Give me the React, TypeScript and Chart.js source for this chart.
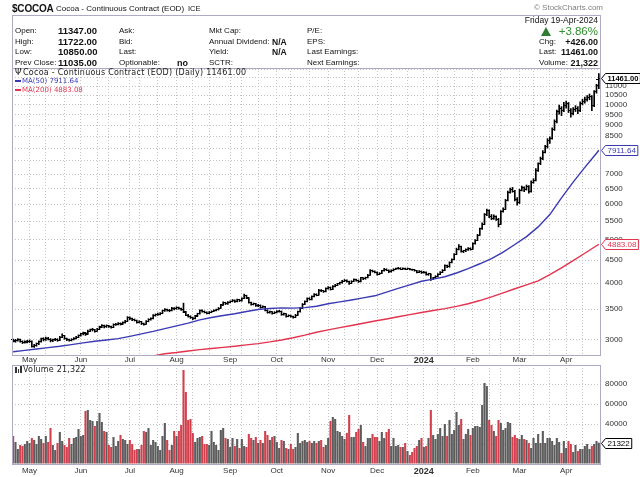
import React, { useEffect, useRef } from "react";
import { Chart, registerables } from "chart.js";

Chart.register(...registerables);

// ---------- calendar (ICE US trading sessions) ----------
const firstSession = "2023-04-20";
const lastSession = "2024-04-19";
const holidays = [
  "2023-05-29", "2023-06-19", "2023-07-04", "2023-09-04", "2023-11-23",
  "2023-12-25", "2024-01-01", "2024-01-15", "2024-02-19", "2024-03-29",
];
const monthNames = ["Jan", "Feb", "Mar", "Apr", "May", "Jun", "Jul", "Aug", "Sep", "Oct", "Nov", "Dec"];

// ---------- daily OHLC ----------
const opens = [
  2990, 2970, 2985, 2995, 2965, 2950, 2960,
  2965, 2970, 2895, 2905, 2930, 2965, 3008, 2990, 3020, 3000, 2980, 2992, 3002, 2985, 3035, 3055, 3010, 2990, 2985, 3000, 3015, 3035,
  3062, 3085, 3100, 3085, 3130, 3150, 3150, 3130, 3162, 3198, 3220, 3198, 3215, 3200, 3192, 3235, 3242, 3258, 3248, 3270, 3295,
  3350, 3335, 3318, 3305, 3270, 3280, 3250, 3242, 3290, 3322, 3340, 3392, 3402, 3415, 3430, 3472, 3495, 3480, 3478, 3522,
  3505, 3530, 3512, 3500, 3450, 3395, 3375, 3350, 3335, 3382, 3420, 3478, 3462, 3448, 3430, 3445, 3462, 3480, 3492, 3522, 3578, 3620, 3598,
  3625, 3642, 3665, 3640, 3672, 3655, 3702, 3752, 3708, 3620, 3585, 3600, 3560, 3575, 3530, 3548, 3480, 3440, 3452, 3430,
  3445, 3460, 3465, 3402, 3420, 3375, 3390, 3372, 3360, 3398, 3455, 3522, 3592, 3640, 3700, 3680, 3735, 3780, 3765, 3860, 3845, 3830,
  3890, 3915, 3880, 3935, 3960, 3985, 4010, 4045, 4060, 4035, 4000, 4040, 4075, 4060, 4030, 4110, 4090, 4115, 4170, 4265, 4250,
  4232, 4185, 4210, 4262, 4300, 4278, 4240, 4268, 4295, 4310, 4325, 4302, 4318, 4300, 4312, 4295, 4282, 4265, 4230, 4255,
  4220, 4235, 4180, 4195, 4085, 4110, 4140, 4190, 4230, 4275, 4380, 4350, 4450, 4520, 4640, 4760, 4830, 4705, 4720, 4745, 4790,
  4765, 4900, 4985, 5120, 5290, 5420, 5680, 5810, 5640, 5570, 5620, 5560, 5420, 5780, 5850, 6120, 6380, 6460, 6420, 6150,
  6040, 6450, 6520, 6480, 6560, 6400, 6720, 6780, 7150, 7380, 7580, 7840, 8050, 8320, 8400, 8800, 9150, 9650, 9820, 9700,
  9950, 10080, 9720, 9560, 9750, 9820, 9690, 10050, 10150, 10260, 10380, 10450, 9940, 10680, 11347,
];
const highs = [
  3005, 3000, 3010, 3002, 2978, 2975, 2985,
  2990, 2975, 2925, 2945, 2975, 3020, 3025, 3035, 3030, 3012, 3005, 3015, 3010, 3045, 3085, 3062, 3020, 3005, 3010, 3025, 3045, 3070,
  3095, 3112, 3110, 3145, 3162, 3175, 3158, 3172, 3210, 3235, 3228, 3230, 3225, 3212, 3248, 3258, 3270, 3265, 3282, 3305, 3370,
  3368, 3345, 3330, 3312, 3298, 3288, 3262, 3302, 3335, 3348, 3405, 3418, 3430, 3440, 3485, 3510, 3505, 3498, 3535, 3530,
  3545, 3538, 3520, 3612, 3462, 3410, 3385, 3362, 3392, 3430, 3490, 3488, 3470, 3455, 3458, 3472, 3492, 3502, 3532, 3590, 3635, 3628, 3640,
  3655, 3680, 3672, 3688, 3680, 3712, 3785, 3762, 3715, 3632, 3615, 3608, 3590, 3580, 3562, 3552, 3490, 3468, 3458, 3458,
  3475, 3482, 3470, 3432, 3425, 3402, 3398, 3380, 3410, 3468, 3532, 3605, 3655, 3712, 3715, 3748, 3795, 3790, 3875, 3872, 3855, 3905,
  3930, 3925, 3950, 3978, 3998, 4025, 4062, 4078, 4068, 4045, 4052, 4090, 4085, 4068, 4125, 4118, 4128, 4185, 4290, 4280, 4262,
  4240, 4225, 4275, 4318, 4308, 4285, 4282, 4310, 4325, 4342, 4332, 4330, 4322, 4325, 4318, 4302, 4290, 4272, 4268, 4262,
  4250, 4242, 4212, 4200, 4125, 4158, 4205, 4245, 4290, 4395, 4392, 4465, 4535, 4660, 4790, 4880, 4842, 4738, 4770, 4805, 4798,
  4920, 5005, 5140, 5310, 5450, 5720, 5850, 5830, 5690, 5680, 5650, 5580, 5810, 5890, 6150, 6420, 6520, 6540, 6440, 6210,
  6480, 6580, 6560, 6620, 6600, 6760, 6840, 7200, 7420, 7640, 7900, 8120, 8400, 8480, 8880, 9250, 9720, 9980, 9900, 10120,
  10180, 10110, 9800, 9850, 9950, 9900, 10150, 10280, 10400, 10480, 10560, 10480, 10750, 11100, 11722,
];
const lows = [
  2960, 2955, 2970, 2955, 2935, 2940, 2945,
  2950, 2880, 2878, 2895, 2920, 2955, 2975, 2982, 2990, 2960, 2965, 2980, 2970, 2980, 3025, 3000, 2980, 2970, 2975, 2990, 3005, 3025,
  3050, 3070, 3060, 3078, 3120, 3130, 3110, 3122, 3155, 3185, 3180, 3188, 3190, 3175, 3185, 3220, 3230, 3228, 3240, 3260, 3288,
  3320, 3300, 3295, 3258, 3262, 3235, 3225, 3238, 3282, 3310, 3332, 3378, 3390, 3400, 3422, 3460, 3468, 3455, 3470, 3490,
  3498, 3500, 3480, 3440, 3385, 3360, 3338, 3318, 3330, 3375, 3412, 3450, 3435, 3418, 3422, 3438, 3455, 3470, 3485, 3515, 3570, 3585, 3590,
  3615, 3635, 3625, 3632, 3640, 3648, 3695, 3700, 3610, 3575, 3578, 3550, 3548, 3520, 3522, 3470, 3430, 3432, 3415, 3422,
  3435, 3448, 3392, 3395, 3362, 3368, 3360, 3345, 3355, 3392, 3448, 3515, 3585, 3632, 3668, 3672, 3728, 3750, 3760, 3830, 3815, 3825,
  3880, 3862, 3872, 3925, 3950, 3975, 4002, 4035, 4020, 3975, 3992, 4032, 4045, 4015, 4025, 4075, 4082, 4110, 4165, 4235, 4215,
  4170, 4178, 4202, 4255, 4265, 4225, 4232, 4260, 4288, 4300, 4290, 4295, 4288, 4292, 4282, 4270, 4255, 4215, 4222, 4205,
  4210, 4168, 4165, 4060, 4072, 4100, 4132, 4182, 4222, 4268, 4330, 4342, 4440, 4512, 4630, 4748, 4690, 4680, 4705, 4735, 4740,
  4755, 4885, 4975, 5110, 5270, 5400, 5660, 5600, 5540, 5550, 5520, 5340, 5410, 5760, 5840, 6100, 6350, 6380, 6100, 5970,
  6020, 6420, 6400, 6450, 6350, 6380, 6680, 6760, 7100, 7350, 7540, 7800, 8000, 8200, 8380, 8760, 9100, 9520, 9450, 9650,
  9820, 9600, 9380, 9480, 9650, 9550, 9650, 9980, 10080, 10180, 10250, 9700, 9900, 10600, 10850,
];
const closes = [
  2975, 2985, 2992, 2968, 2950, 2958, 2965,
  2972, 2895, 2902, 2930, 2962, 3005, 2990, 3018, 3002, 2978, 2992, 3000, 2985, 3030, 3058, 3010, 2992, 2985, 2998, 3012, 3035, 3060,
  3085, 3098, 3082, 3130, 3148, 3152, 3128, 3160, 3195, 3220, 3198, 3215, 3202, 3190, 3235, 3240, 3258, 3245, 3268, 3290, 3350,
  3335, 3318, 3310, 3270, 3282, 3248, 3240, 3290, 3322, 3335, 3390, 3402, 3415, 3428, 3470, 3492, 3480, 3475, 3520, 3505,
  3530, 3512, 3498, 3452, 3395, 3375, 3350, 3335, 3380, 3420, 3478, 3462, 3448, 3430, 3445, 3462, 3480, 3492, 3520, 3575, 3620, 3598, 3625,
  3640, 3665, 3638, 3672, 3655, 3700, 3752, 3710, 3620, 3585, 3602, 3560, 3575, 3530, 3548, 3480, 3440, 3452, 3430, 3445,
  3460, 3468, 3402, 3420, 3375, 3390, 3372, 3360, 3398, 3455, 3520, 3590, 3640, 3700, 3680, 3735, 3780, 3765, 3860, 3845, 3830, 3890,
  3915, 3880, 3935, 3960, 3985, 4010, 4045, 4060, 4035, 4000, 4040, 4075, 4060, 4030, 4110, 4090, 4115, 4170, 4265, 4250, 4232,
  4185, 4210, 4262, 4300, 4278, 4240, 4268, 4295, 4310, 4325, 4302, 4318, 4300, 4312, 4295, 4282, 4265, 4230, 4255, 4220,
  4235, 4180, 4195, 4085, 4110, 4140, 4190, 4230, 4275, 4380, 4350, 4450, 4520, 4640, 4760, 4830, 4705, 4720, 4745, 4790, 4765,
  4900, 4985, 5120, 5290, 5420, 5680, 5810, 5640, 5570, 5620, 5560, 5420, 5780, 5850, 6120, 6380, 6460, 6420, 6150, 6040,
  6450, 6520, 6480, 6560, 6400, 6720, 6780, 7150, 7380, 7580, 7840, 8050, 8320, 8400, 8800, 9150, 9650, 9820, 9700, 9950,
  10080, 9720, 9560, 9750, 9820, 9690, 10050, 10150, 10260, 10380, 10450, 9940, 10680, 11035, 11461,
];
const volumes = [
  28000, 22000, 15000, 19000, 18000, 20000, 23000,
  21000, 26000, 24000, 20000, 28000, 25000, 21000, 28000, 22000, 36000, 19000, 14000, 21000, 32000, 23000, 19000, 17000, 26000, 20000, 26000, 27000, 35000,
  28000, 29000, 53000, 54000, 44000, 43000, 38000, 43000, 51000, 42000, 33000, 32000, 19000, 17000, 27000, 18000, 23000, 29000, 25000, 24000, 20000,
  24000, 20000, 14000, 15000, 15000, 19000, 33000, 32000, 36000, 19000, 24000, 22000, 18000, 14000, 28000, 41000, 24000, 14000, 19000, 33000,
  28000, 33000, 39000, 94000, 72000, 44000, 45000, 31000, 22000, 26000, 27000, 28000, 20000, 20000, 19000, 33000, 22000, 19000, 14000, 34000, 36000, 26000, 25000,
  17000, 26000, 18000, 25000, 16000, 25000, 18000, 17000, 30000, 26000, 24000, 27000, 21000, 24000, 21000, 33000, 29000, 24000, 27000, 28000,
  22000, 16000, 24000, 23000, 16000, 15000, 20000, 15000, 17000, 31000, 21000, 23000, 24000, 22000, 23000, 21000, 23000, 21000, 23000, 24000, 17000, 19000,
  26000, 43000, 47000, 45000, 33000, 32000, 28000, 25000, 31000, 49000, 27000, 27000, 32000, 35000, 39000, 22000, 18000, 26000, 26000, 30000, 27000,
  27000, 23000, 32000, 26000, 32000, 35000, 18000, 26000, 18000, 19000, 17000, 17000, 21000, 13000, 9000, 12000, 16000, 18000, 24000, 26000,
  17000, 18000, 26000, 54000, 29000, 25000, 30000, 36000, 28000, 40000, 28000, 44000, 30000, 34000, 52000, 39000, 45000, 25000, 30000, 35000, 29000,
  36000, 38000, 38000, 37000, 59000, 81000, 78000, 44000, 39000, 33000, 28000, 44000, 41000, 34000, 36000, 42000, 41000, 27000, 29000, 26000,
  25000, 29000, 25000, 24000, 21000, 16000, 26000, 21000, 30000, 21000, 33000, 21000, 26000, 26000, 23000, 19000, 26000, 22000, 11000, 23000,
  16000, 23000, 20000, 12000, 19000, 13000, 15000, 15000, 18000, 20000, 15000, 18000, 20000, 23000, 21322,
];

// ---------- moving averages (every 5th session) ----------
const maStep = 5;
const ma50From = 0;
const ma50Read = [
  2815, 2835, 2855, 2875, 2895, 2920, 2945, 2970, 2990, 3010, 3045, 3085, 3125, 3170, 3215, 3260, 3315, 3355, 3390, 3420,
  3460, 3495, 3515, 3525, 3520, 3530, 3555, 3600, 3635, 3670, 3710, 3750, 3820, 3895, 3965, 4040, 4085, 4135, 4215, 4310,
  4420, 4540, 4690, 4880, 5080, 5340, 5690, 6195, 6720, 7245, 7790,
];
const ma50Last = 7911.64;
const ma200From = 60;
const ma200Read = [
  2755, 2785, 2803, 2825, 2845, 2862, 2878, 2895, 2915, 2935, 2960, 2990, 3025, 3065, 3110, 3148, 3185, 3220, 3258, 3295,
  3330, 3368, 3405, 3442, 3478, 3512, 3552, 3600, 3660, 3730, 3808, 3888, 3968, 4050, 4180, 4330, 4490, 4665, 4848,
];
const ma200Last = 4883.08;

// ---------- axes ----------
const priceTicks = [3000, 3500, 4000, 4500, 5000, 5500, 6000, 6500, 7000, 7500, 8000, 8500, 9000, 9500, 10000, 10500, 11000, 11500, 12000];
const priceTicksUnlabelled = [7500, 8000, 11500, 12000];
const priceMin = 2768;
const priceMax = 12066;
const volumeTicks = [0, 20000, 40000, 60000, 80000];
const volumeTicksLabelled = [40000, 60000, 80000];
const volumeMax = 99000;

const BLUE = "#3a3ab4";
const RED = "#e2334f";
const GRID = "#c4c4c4";
const FRAME = "#aeaac4";
const SANS = '"Liberation Sans", Arial, sans-serif';
const DV = '"DejaVu Sans", Verdana, sans-serif';

function buildSessions(): string[] {
  const out: string[] = [];
  const d = new Date(firstSession + "T00:00:00Z");
  const end = new Date(lastSession + "T00:00:00Z");
  while (d.getTime() <= end.getTime()) {
    const wd = d.getUTCDay();
    const s = d.toISOString().slice(0, 10);
    if (wd !== 0 && wd !== 6 && !holidays.includes(s)) out.push(s);
    d.setUTCDate(d.getUTCDate() + 1);
  }
  return out;
}

function tickImage(left: boolean) {
  const c = document.createElement("canvas");
  c.width = 5;
  c.height = 1;
  const g = c.getContext("2d")!;
  g.fillStyle = "#000";
  g.fillRect(left ? 0 : 3, 0, 2, 1);
  return c;
}

const lastBoxes = {
  id: "lastBoxes",
  afterDraw(chart: any, _args: any, opts: any) {
    const { ctx, chartArea, scales } = chart;
    const y = scales.y;
    (opts.items || []).forEach((it: any) => {
      const py = Math.round(y.getPixelForValue(it.value)) + 0.5;
      const x0 = chartArea.right + 1.5;
      ctx.save();
      ctx.font = `${it.bold ? "bold " : ""}${it.size}px ${SANS}`;
      const w = ctx.measureText(it.text).width + 4;
      const h = 10;
      ctx.beginPath();
      ctx.moveTo(x0, py);
      ctx.lineTo(x0 + 4, py - h / 2);
      ctx.lineTo(x0 + 4 + w, py - h / 2);
      ctx.lineTo(x0 + 4 + w, py + h / 2);
      ctx.lineTo(x0 + 4, py + h / 2);
      ctx.closePath();
      ctx.fillStyle = "#fff";
      ctx.fill();
      ctx.lineWidth = 1;
      ctx.strokeStyle = it.color;
      ctx.stroke();
      ctx.fillStyle = it.color;
      ctx.textBaseline = "middle";
      ctx.textAlign = "left";
      ctx.fillText(it.text, x0 + 6, py + 0.5);
      ctx.restore();
    });
  },
};

type Txt = { x: number; y: number; t: string; size?: number; bold?: boolean; color?: string; right?: boolean; font?: string; ls?: number };

const fmt = (v: number) => v.toFixed(2);
const lastClose = closes[closes.length - 1];
const prevClose = closes[closes.length - 2];
const lastVol = volumes[volumes.length - 1];
const chg = lastClose - prevClose;
const pct = (chg / prevClose) * 100;

const headerTexts: Txt[] = [
  { x: 12, y: 8.5, t: "$COCOA", size: 10, bold: true, ls: -0.2 },
  { x: 56, y: 9, t: "Cocoa - Continuous Contract (EOD)", size: 8 },
  { x: 188, y: 9, t: "ICE", size: 7.5 },
  { x: 603, y: 8, t: "\u00A9 StockCharts.com", size: 8, color: "#808080", right: true },
  { x: 598, y: 20, t: "Friday  19-Apr-2024", size: 8.5, right: true },
  { x: 15, y: 31, t: "Open:", size: 8 },
  { x: 58, y: 31, t: fmt(opens[opens.length - 1]), size: 9.5, bold: true },
  { x: 15, y: 42, t: "High:", size: 8 },
  { x: 58, y: 42, t: fmt(highs[highs.length - 1]), size: 9.5, bold: true },
  { x: 15, y: 52, t: "Low:", size: 8 },
  { x: 58, y: 52, t: fmt(lows[lows.length - 1]), size: 9.5, bold: true },
  { x: 15, y: 63, t: "Prev Close:", size: 8 },
  { x: 58, y: 63, t: fmt(prevClose), size: 9.5, bold: true },
  { x: 119, y: 31, t: "Ask:", size: 8 },
  { x: 119, y: 42, t: "Bid:", size: 8 },
  { x: 119, y: 52, t: "Last:", size: 8 },
  { x: 119, y: 63, t: "Optionable:", size: 8 },
  { x: 177, y: 63, t: "no", size: 9, bold: true },
  { x: 209, y: 31, t: "Mkt Cap:", size: 8 },
  { x: 209, y: 42, t: "Annual Dividend:", size: 8 },
  { x: 272, y: 42, t: "N/A", size: 8.5, bold: true },
  { x: 209, y: 52, t: "Yield:", size: 8 },
  { x: 272, y: 52, t: "N/A", size: 8.5, bold: true },
  { x: 209, y: 63, t: "SCTR:", size: 8 },
  { x: 307, y: 31, t: "P/E:", size: 8 },
  { x: 307, y: 42, t: "EPS:", size: 8 },
  { x: 307, y: 52, t: "Last Earnings:", size: 8 },
  { x: 307, y: 63, t: "Next Earnings:", size: 8 },
  { x: 598, y: 31, t: (pct >= 0 ? "+" : "") + pct.toFixed(2) + "%", size: 11.5, color: "#2f8f2f", right: true },
  { x: 539, y: 42, t: "Chg:", size: 8 },
  { x: 598, y: 42, t: (chg >= 0 ? "+" : "") + fmt(chg), size: 9, bold: true, right: true },
  { x: 539, y: 52, t: "Last:", size: 8 },
  { x: 598, y: 52, t: fmt(lastClose), size: 9, bold: true, right: true },
  { x: 539, y: 63, t: "Volume:", size: 8 },
  { x: 598, y: 63, t: lastVol.toLocaleString("en-US"), size: 9, bold: true, right: true },
  { x: 15, y: 73, t: "\u03A8", size: 8, font: DV },
  { x: 23, y: 73, t: `Cocoa - Continuous Contract (EOD) (Daily) ${fmt(lastClose)}`, size: 8, font: DV, color: "#222", ls: 0.25 },
  { x: 22, y: 81, t: `MA(50) ${fmt(ma50Last)}`, size: 7, font: DV, color: BLUE },
  { x: 22, y: 90, t: `MA(200) ${fmt(ma200Last)}`, size: 7, font: DV, color: RED },
  { x: 23, y: 370, t: `Volume ${lastVol.toLocaleString("en-US")}`, size: 8, font: DV, color: "#222", ls: 0.2 },
];

export default function App() {
  const priceRef = useRef<HTMLCanvasElement>(null);
  const volRef = useRef<HTMLCanvasElement>(null);

  useEffect(() => {
    Chart.defaults.font.family = SANS;
    const sessions = buildSessions();
    const n = sessions.length;

    // grid: first session of each month and first sessions on/after the 10th and 20th
    const gridIdx: number[] = [];
    const monthLabel = new Map<number, string>();
    for (let i = 1; i < n; i++) {
      const [, pm, pd] = sessions[i - 1].split("-").map(Number);
      const [yy, mm, dd] = sessions[i].split("-").map(Number);
      if (mm !== pm) {
        gridIdx.push(i);
        monthLabel.set(i, mm === 1 ? String(yy) : monthNames[mm - 1]);
      } else if ((pd < 10 && dd >= 10) || (pd < 20 && dd >= 20)) {
        gridIdx.push(i);
      }
    }
    const yearIdx = new Set<number>();
    monthLabel.forEach((v, k) => { if (/^\d+$/.test(v)) yearIdx.add(k); });

    const xScale = (h: number, pad: number) => ({
      type: "category" as const,
      offset: true,
      grid: { offset: false, color: GRID, lineWidth: 1, drawTicks: false },
      border: { display: false, dash: [1, 2] },
      ticks: {
        autoSkip: false,
        maxRotation: 0,
        minRotation: 0,
        padding: pad,
        color: "#333",
        font: (c: any) => ({ size: c.tick && yearIdx.has(c.tick.value) ? 9 : 8, weight: c.tick && yearIdx.has(c.tick.value) ? "bold" : "normal", family: SANS }),
        callback: (v: any) => monthLabel.get(Number(v)) ?? "",
      },
      afterBuildTicks: (s: any) => { s.ticks = gridIdx.map((i) => ({ value: i })); },
      afterFit: (s: any) => { s.height = h; s.paddingLeft = 0; s.paddingRight = 0; s.paddingTop = 0; s.paddingBottom = 0; },
    });

    const yFit = (s: any) => { s.width = 40; s.paddingTop = 0; s.paddingBottom = 0; s.paddingLeft = 0; s.paddingRight = 0; };

    const ma50: (number | null)[] = new Array(n).fill(null);
    ma50Read.forEach((v, k) => { ma50[ma50From + k * maStep] = v; });
    ma50[n - 1] = ma50Last;
    const ma200: (number | null)[] = new Array(n).fill(null);
    ma200Read.forEach((v, k) => { ma200[ma200From + k * maStep] = v; });
    ma200[n - 1] = ma200Last;

    const hl = sessions.map((_, i) => [lows[i], highs[i]]);
    const openImg = tickImage(true);
    const closeImg = tickImage(false);

    const priceChart = new Chart(priceRef.current!, {
      type: "bar",
      data: {
        labels: sessions,
        datasets: [
          { type: "line", data: ma50 as any, spanGaps: true, borderColor: BLUE, borderWidth: 1.4, pointRadius: 0, tension: 0, order: 0 } as any,
          { type: "line", data: ma200 as any, spanGaps: true, borderColor: RED, borderWidth: 1.4, pointRadius: 0, tension: 0, order: 0 } as any,
          { type: "bar", data: hl as any, backgroundColor: "#000", barThickness: 1, order: 2 } as any,
          { type: "line", data: opens, showLine: false, pointStyle: openImg, pointRadius: 2, order: 1 } as any,
          { type: "line", data: closes, showLine: false, pointStyle: closeImg, pointRadius: 2, order: 1 } as any,
        ],
      },
      options: {
        responsive: false,
        animation: false,
        devicePixelRatio: 1,
        events: [],
        layout: { padding: { left: 12, top: 2, right: 0, bottom: 0 }, autoPadding: false },
        plugins: {
          legend: { display: false },
          tooltip: { enabled: false },
          lastBoxes: {
            items: [
              { value: ma200Last, color: RED, text: fmt(ma200Last), size: 8 },
              { value: ma50Last, color: BLUE, text: fmt(ma50Last), size: 8 },
              { value: lastClose, color: "#000", text: fmt(lastClose), size: 7.5, bold: true },
            ],
          },
        } as any,
        scales: {
          x: xScale(11, 0) as any,
          y: {
            type: "logarithmic",
            position: "right",
            min: priceMin,
            max: priceMax,
            grid: { color: GRID, lineWidth: 1, drawTicks: false },
            border: { display: false, dash: [1, 2] },
            ticks: {
              padding: 5,
              color: "#333",
              font: { size: 8, family: SANS },
              callback: (v: any) => (priceTicksUnlabelled.includes(Number(v)) ? "" : String(v)),
            },
            afterBuildTicks: (s: any) => { s.ticks = priceTicks.map((v) => ({ value: v })); },
            afterFit: yFit,
          } as any,
        },
      },
      plugins: [lastBoxes as any],
    });

    const volColors = volumes.map((_, i) => {
      const ref = i === 0 ? opens[0] : closes[i - 1];
      return closes[i] < ref ? "#d2404e" : "#5c5c5c";
    });

    const volChart = new Chart(volRef.current!, {
      type: "bar",
      data: {
        labels: sessions,
        datasets: [{ data: volumes, backgroundColor: volColors, barPercentage: 0.9, categoryPercentage: 1 }],
      },
      options: {
        responsive: false,
        animation: false,
        devicePixelRatio: 1,
        events: [],
        layout: { padding: { left: 12, top: 2, right: 0, bottom: 0 }, autoPadding: false },
        plugins: {
          legend: { display: false },
          tooltip: { enabled: false },
          lastBoxes: { items: [{ value: lastVol, color: "#000", text: String(lastVol), size: 8 }] },
        } as any,
        scales: {
          x: xScale(13, 2) as any,
          y: {
            type: "linear",
            position: "right",
            min: 0,
            max: volumeMax,
            grid: { color: GRID, lineWidth: 1, drawTicks: false },
            border: { display: false, dash: [1, 2] },
            ticks: {
              padding: 5,
              color: "#333",
              font: { size: 8, family: SANS },
              callback: (v: any) => (volumeTicksLabelled.includes(Number(v)) ? String(v) : ""),
            },
            afterBuildTicks: (s: any) => { s.ticks = volumeTicks.map((v) => ({ value: v })); },
            afterFit: yFit,
          } as any,
        },
      },
      plugins: [lastBoxes as any],
    });

    return () => {
      priceChart.destroy();
      volChart.destroy();
    };
  }, []);

  const box = (l: number, t: number, w: number, h: number): React.CSSProperties => ({
    position: "absolute", left: l, top: t, width: w, height: h, boxSizing: "border-box",
    border: `1px solid ${FRAME}`, pointerEvents: "none",
  });

  return (
    <div style={{ position: "absolute", left: 0, top: 0, width: 640, height: 477, background: "#fff", overflow: "hidden", fontFamily: SANS }}>
      <canvas ref={priceRef} width={640} height={300} style={{ position: "absolute", left: 0, top: 66, width: 640, height: 300 }} />
      <canvas ref={volRef} width={640} height={114} style={{ position: "absolute", left: 0, top: 363, width: 640, height: 114 }} />
      <div style={box(12, 15, 589, 54)} />
      <div style={box(12, 68, 589, 288)} />
      <div style={box(12, 365, 589, 100)} />
      {/* green up-triangle */}
      <div style={{ position: "absolute", left: 541, top: 27, width: 0, height: 0, borderLeft: "5px solid transparent", borderRight: "5px solid transparent", borderBottom: "9px solid #2e7d32" }} />
      {/* MA legend swatches */}
      <div style={{ position: "absolute", left: 15, top: 80, width: 6, height: 2, background: BLUE }} />
      <div style={{ position: "absolute", left: 15, top: 89, width: 6, height: 2, background: RED }} />
      {/* volume icon */}
      <div style={{ position: "absolute", left: 15, top: 367, width: 1.5, height: 6, background: "#333" }} />
      <div style={{ position: "absolute", left: 17.5, top: 369, width: 1.5, height: 4, background: "#333" }} />
      <div style={{ position: "absolute", left: 20, top: 366, width: 1.5, height: 7, background: "#333" }} />
      {headerTexts.map((d, i) => (
        <div
          key={i}
          style={{
            position: "absolute",
            top: d.y - 7,
            height: 14,
            lineHeight: "14px",
            whiteSpace: "nowrap",
            fontFamily: d.font || SANS,
            fontSize: d.size || 8,
            fontWeight: d.bold ? 700 : 400,
            letterSpacing: d.ls ? `${d.ls}px` : undefined,
            color: d.color || "#111",
            ...(d.right ? { right: 640 - d.x } : { left: d.x }),
          }}
        >
          {d.t}
        </div>
      ))}
    </div>
  );
}
